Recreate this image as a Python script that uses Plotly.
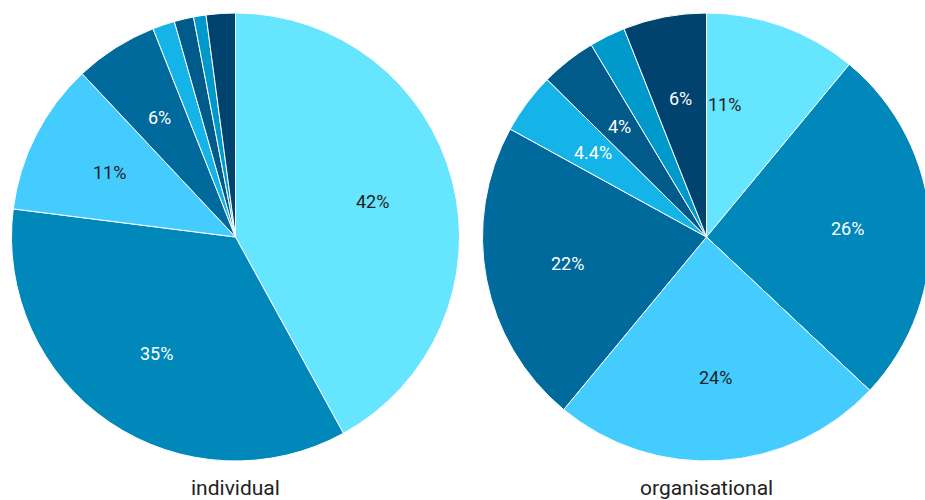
import math
import plotly.graph_objects as go

categories = ["Category A", "Category B", "Category C", "Category D",
              "Category E", "Category F", "Category G", "Category H"]
individual_values = [42, 35, 11, 6, 1.6, 1.4, 0.9, 2.1]
organisational_values = [11, 26, 24, 22, 4.4, 4, 2.6, 6]
pie_titles = ["individual", "organisational"]

colors = ["#66E5FF", "#0088BB", "#44CCFF", "#006A9C",
          "#14B4E8", "#005A8A", "#0099CC", "#00436F"]
text_colors = ["#222222", "white", "#222222", "white",
               "white", "white", "white", "white"]

PIE_RADIUS_PX = 224       # radius resulting from the layout below
LABEL_FRAC = 0.63         # labels sit at this fraction of the radius
MIN_LABEL_SHARE = 3.0     # smaller slices are not labelled
# per-pie horizontal label nudges (px), style only
label_nudge_px = [[0] * 8, [-30, 0, 0, 0, 0, 0, 0, 0]]

fig = go.Figure()
annotations = []
for i, vals in enumerate([individual_values, organisational_values]):
    cx = 0.25 + 0.5 * i
    fig.add_trace(go.Pie(
        labels=categories,
        values=vals,
        sort=False,
        direction="clockwise",
        rotation=0,
        textinfo="none",
        marker=dict(colors=colors, line=dict(color="white", width=1)),
        domain=dict(x=[0.5 * i, 0.5 * i + 0.5], y=[0, 1]),
        showlegend=False,
        hoverinfo="label+percent",
    ))
    total = sum(vals)
    cum = 0.0
    for k, (v, tc) in enumerate(zip(vals, text_colors)):
        share = v / total * 100
        mid = (cum + v / 2) / total * 2 * math.pi
        cum += v
        if share < MIN_LABEL_SHARE:
            continue
        r = PIE_RADIUS_PX * LABEL_FRAC
        annotations.append(dict(
            text=f"{share:.3g}%", x=cx, y=0.5, xref="paper", yref="paper",
            xshift=r * math.sin(mid) + label_nudge_px[i][k], yshift=r * math.cos(mid),
            xanchor="center", yanchor="middle", showarrow=False,
            font=dict(family="Roboto", size=18, color=tc),
        ))
    annotations.append(dict(
        text=pie_titles[i], x=cx, y=-0.06, xref="paper", yref="paper",
        xanchor="center", yanchor="middle", showarrow=False,
        font=dict(family="Roboto", size=21, color="#222222"),
    ))

fig.update_layout(
    width=942,
    height=500,
    margin=dict(l=0, r=0, t=13, b=39),
    paper_bgcolor="white",
    font=dict(family="Roboto", color="#222222"),
    annotations=annotations,
)

fig.write_html("out.html",
               post_script="document.body.style.overflow='hidden';document.documentElement.style.overflow='hidden';")
